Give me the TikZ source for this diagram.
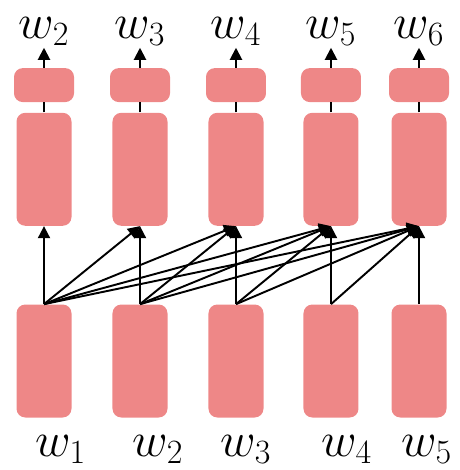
\documentclass[tikz,border=0pt]{standalone}
\usepackage{amsmath}
\usetikzlibrary{positioning,arrows.meta}
\definecolor{cellpink}{RGB}{238,135,135}

\begin{document}
\begin{tikzpicture}[cell/.style={fill=cellpink, rounded corners=5pt, minimum width=1.1cm, minimum height=2.26cm, inner sep=0pt},
                    headcell/.style={fill=cellpink, rounded corners=5pt, minimum width=1.2cm, minimum height=0.68cm, inner sep=0pt},
                    word/.style={inner sep=1pt, scale=1.12, transform shape, font=\fontsize{26}{30}\selectfont},
                    link/.style={-{Triangle[length=2.4mm,width=2.4mm]}, line width=1.1pt}]
    \useasboundingbox (0,0) rectangle (9.2,-9.4);
        % input cells
        \node[cell] (b1) at (0.88,-7.22) {};
        \node[cell] (b2) at (2.80,-7.22) {};
        \node[cell] (b3) at (4.72,-7.22) {};
        \node[cell] (b4) at (6.62,-7.22) {};
        \node[cell] (b5) at (8.38,-7.22) {};
        \node[word] (x1) [below=0.3cm of b1, xshift=0.30cm] {$w_1$};
        \node[word] (x2) [below=0.3cm of b2, xshift=0.32cm] {$w_2$};
        \node[word] (x3) [below=0.3cm of b3, xshift=0.18cm] {$w_3$};
        \node[word] (x4) [below=0.3cm of b4, xshift=0.28cm] {$w_4$};
        \node[word] (x5) [below=0.3cm of b5, xshift=0.14cm] {$w_5$};
        % hidden cells
        \node[cell] (m1) [above=1.56cm of b1] {};
        \node[cell] (m2) [above=1.56cm of b2] {};
        \node[cell] (m3) [above=1.56cm of b3] {};
        \node[cell] (m4) [above=1.56cm of b4] {};
        \node[cell] (m5) [above=1.56cm of b5] {};
        % output cells
        \node[headcell] (t1) [above=0.2cm of m1] {};
        \node[headcell] (t2) [above=0.2cm of m2] {};
        \node[headcell] (t3) [above=0.2cm of m3] {};
        \node[headcell] (t4) [above=0.2cm of m4] {};
        \node[headcell] (t5) [above=0.2cm of m5] {};
        \node[word] (y1) [above=0.4cm of t1] {$w_2$};
        \node[word] (y2) [above=0.4cm of t2] {$w_3$};
        \node[word] (y3) [above=0.4cm of t3] {$w_4$};
        \node[word] (y4) [above=0.4cm of t4] {$w_5$};
        \node[word] (y5) [above=0.4cm of t5] {$w_6$};
        % links
        \draw[link] (b1.north) -- (m1.south);
        \draw[link] (b1.north) -- (m2.south);
        \draw[link] (b1.north) -- (m3.south);
        \draw[link] (b1.north) -- (m4.south);
        \draw[link] (b1.north) -- (m5.south);
        \draw[link] (b2.north) -- (m2.south);
        \draw[link] (b2.north) -- (m3.south);
        \draw[link] (b2.north) -- (m4.south);
        \draw[link] (b2.north) -- (m5.south);
        \draw[link] (b3.north) -- (m3.south);
        \draw[link] (b3.north) -- (m4.south);
        \draw[link] (b3.north) -- (m5.south);
        \draw[link] (b4.north) -- (m4.south);
        \draw[link] (b4.north) -- (m5.south);
        \draw[link] (b5.north) -- (m5.south);
        \draw[line width=1.1pt] (m1) -- (t1);
        \draw[line width=1.1pt] (m2) -- (t2);
        \draw[line width=1.1pt] (m3) -- (t3);
        \draw[line width=1.1pt] (m4) -- (t4);
        \draw[line width=1.1pt] (m5) -- (t5);
        \draw[link] (t1) -- (y1);
        \draw[link] (t2) -- (y2);
        \draw[link] (t3) -- (y3);
        \draw[link] (t4) -- (y4);
        \draw[link] (t5) -- (y5);
\end{tikzpicture}
\end{document}
